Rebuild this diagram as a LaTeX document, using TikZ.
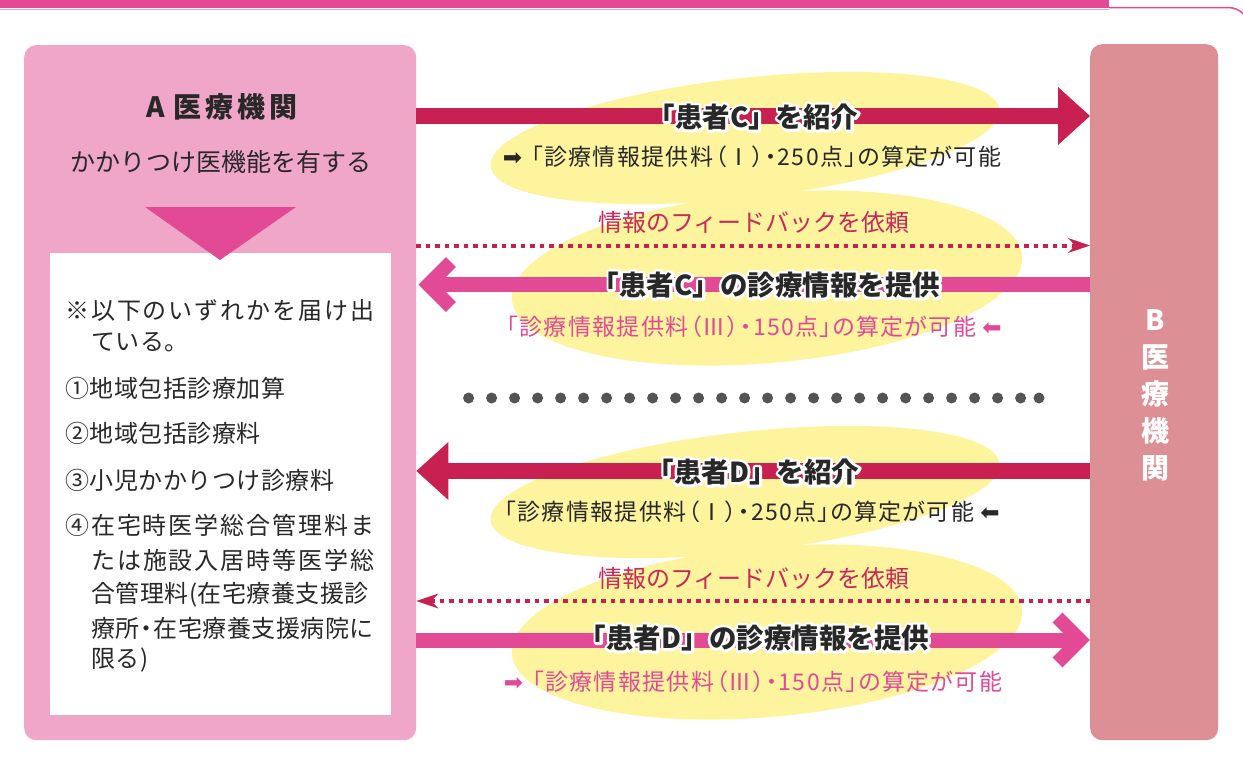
\documentclass[tikz,border=0pt]{standalone}
\usepackage{fontspec}
\setmainfont{Noto Sans CJK JP}
\newfontfamily\jpa[LetterSpace=2]{Noto Sans CJK JP}
\newfontfamily\jpb[LetterSpace=8]{Noto Sans CJK JP}
\newfontfamily\jps[RawFeature=+palt,LetterSpace=6]{Noto Sans CJK JP}
\newfontfamily\symf{DejaVu Sans}
\usetikzlibrary{arrows.meta}
\definecolor{crim}{RGB}{200,32,80}
\definecolor{magc}{RGB}{226,74,150}
\definecolor{pinkA}{RGB}{240,166,200}
\definecolor{boxB}{RGB}{220,143,148}
\definecolor{yel}{RGB}{254,244,158}
\definecolor{darkt}{RGB}{40,40,40}
\definecolor{dotc}{RGB}{84,84,84}
\definecolor{fbc}{RGB}{200,40,90}
\newcommand\fsz[1]{\fontsize{#1pt}{#1pt}\selectfont}
\newcommand\nd{\kern-5pt・\kern-5pt}
\newcommand\halo[1]{\leavevmode\rlap{\special{pdf:code q 1 Tr 5.4 w 1 J 1 j 1 1 1 RG}#1\special{pdf:code Q}}#1}
\begin{document}
\begin{tikzpicture}[x=1pt,y=-1pt,
  txt/.style={inner sep=0pt,text=darkt},
  head/.style={txt,font=\fsz{27.5}\bfseries},
  sub/.style={txt,font=\fsz{23}\jps},
  lst/.style={txt,anchor=west,font=\fsz{24}\jpa},
  lstw/.style={txt,anchor=west,font=\fsz{24}\jpb},
  fb/.style={inner sep=0pt,text=fbc,font=\fsz{24}},
  bigarrow/.style={crim,line width=16pt,-{Triangle[length=32pt,width=58pt,line width=0pt]}},
  dotarrow/.style={crim,line width=4pt,dash pattern=on 4.5pt off 5pt,-{Stealth[length=22pt,width=15pt,inset=7pt,line width=0pt]}},
  shaft/.style={magc,line width=15pt},
  chev/.style={magc,line width=14pt,line join=miter,line cap=butt},
  blob/.style={yel}]
\useasboundingbox (0,0) rectangle (1243,769);
\fill[white] (0,0) rectangle (1243,769);
% top decoration
\fill[magc] (0,0) rectangle (1109,8);
\draw[pinkA,line width=1.5pt] (0,9.5) -- (1109,9.5);
\draw[magc,line width=1.5pt,rounded corners=22pt] (1109,7.5) -- (1250,7.5) -- (1250,60);
% boxes
\node[fill=pinkA,rounded corners=12pt,minimum width=392pt,minimum height=695pt,anchor=north west,inner sep=0pt] (A) at (24,45) {};
\node[fill=boxB,rounded corners=12pt,minimum width=128pt,minimum height=696pt,anchor=north west,inner sep=0pt] (B) at (1090,44) {};
\node[fill=white,minimum width=341pt,minimum height=462pt,anchor=north west,inner sep=0pt] (W) at (50,253) {};
\fill[magc] (145,207) -- (296,207) -- (220,260) -- cycle;
% left texts
\node[txt,font=\fsz{28}\bfseries] (Atitle) at (222,107) {A\kern9pt 医\kern4pt 療\kern4pt 機\kern4pt 関};
\node[txt,font=\fsz{25}] (Asub) at (221,162) {かかりつけ医機能を有する};
\node[lstw] (L1) at (65,310) {※以下のいずれかを届け出};
\node[lst] (L2) at (91,342) {ている。};
\node[lst] (L3) at (65,388) {①地域包括診療加算};
\node[lst] (L4) at (65,433) {②地域包括診療料};
\node[lst] (L5) at (65,480) {③小児かかりつけ診療料};
\node[lstw] (L6) at (65,525) {④在宅時医学総合管理料ま};
\node[lstw] (L7) at (91,560) {たは施設入居時等医学総};
\node[lst] (L8) at (91,595) {合管理料(在宅療養支援診};
\node[lst] (L9) at (91,628) {療所\nd 在宅療養支援病院に};
\node[lst] (L10) at (91,660) {限る)};
% B label
\node[inner sep=0pt,text=white,font={\fontsize{28pt}{37pt}\selectfont\bfseries},align=center] (Blab) at (1155,395) {B\\医\\療\\機\\関};
% yellow blobs
\fill[blob,rotate around={6.4:(745,138)}] (745,138) ellipse [x radius=256,y radius=60];
\fill[blob,rotate around={5:(767,278)}] (767,278) ellipse [x radius=256,y radius=85];
\fill[blob,rotate around={6.4:(745,492)}] (745,492) ellipse [x radius=256,y radius=60];
\fill[blob,rotate around={5:(767,632)}] (767,632) ellipse [x radius=256,y radius=85];
% connectors
\draw[bigarrow] (A.east|-0,116) -- (B.west|-0,116);
\draw[dotarrow] (A.east|-0,245.5) -- (B.west|-0,245.5);
\coordinate (c3) at (A.east|-0,284.5);
\draw[shaft] (B.west|-0,284.5) -- ([xshift=12pt]c3);
\draw[chev] ([shift={(34.5,-22.5)}]c3) -- ([xshift=12pt]c3) -- ([shift={(34.5,22.5)}]c3);
\draw[bigarrow] (B.west|-0,471) -- (A.east|-0,471);
\draw[dotarrow] (B.west|-0,601) -- (A.east|-0,601);
\coordinate (c7) at (B.west|-0,640);
\draw[shaft] (A.east|-0,640) -- ([xshift=-10pt]c7);
\draw[chev] ([shift={(-32.5,-22.5)}]c7) -- ([xshift=-10pt]c7) -- ([shift={(-32.5,22.5)}]c7);
% dots
\foreach \i in {0,...,24} \fill[dotc] (468.6+\i*23.0,398) circle (5.5pt);
\fill[dotc] (1039,398) circle (5.5pt);
% arrow texts
\node[head] (T1) at (753,117) {\halo{「患者C」を紹介}};
\node[sub] (T2) at (752,157) {{\symf ➡}\kern9pt「診療情報提供料（Ⅰ）・250点」の算定が可能};
\node[fb] (F1) at (754,222) {情報のフィードバックを依頼};
\node[head] (T3) at (766,285) {\halo{「患者C」の診療情報を提供}};
\node[sub,text=magc] (T4) at (754,327) {「診療情報提供料（Ⅲ）・150点」の算定が可能\kern6pt{\symf ⬅}};
\node[head] (T5) at (753,472) {\halo{「患者D」を紹介}};
\node[sub] (T6) at (752,512) {「診療情報提供料（Ⅰ）・250点」の算定が可能\kern6pt{\symf ⬅}};
\node[fb] (F2) at (754,578) {情報のフィードバックを依頼};
\node[head] (T7) at (754,638) {\halo{「患者D」の診療情報を提供}};
\node[sub,text=magc] (T8) at (753,682) {{\symf ➡}\kern9pt「診療情報提供料（Ⅲ）・150点」の算定が可能};
\end{tikzpicture}
\end{document}
